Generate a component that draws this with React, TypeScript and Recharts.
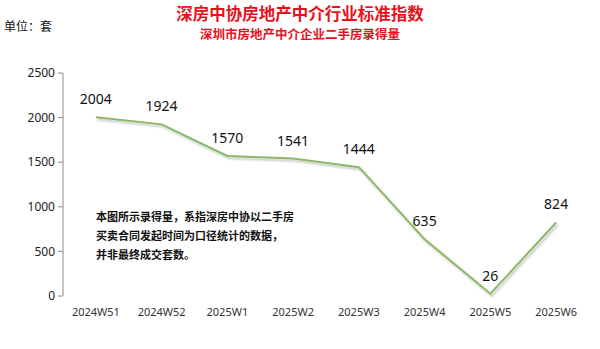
import { LabelList, Line, LineChart, XAxis, YAxis } from 'recharts';

const weeks = ['2024W51', '2024W52', '2025W1', '2025W2', '2025W3', '2025W4', '2025W5', '2025W6'];
const volumes = [2004, 1924, 1570, 1541, 1444, 635, 26, 824];
const yTicks = [0, 500, 1000, 1500, 2000, 2500];
const centerTicks = [0, 1, 2, 3, 4, 5, 6, 7];
const edgeTicks = [-0.5, 0.5, 1.5, 2.5, 3.5, 4.5, 5.5, 6.5, 7.5];

const title = '深房中协房地产中介行业标准指数';
const subtitle = '深圳市房地产中介企业二手房录得量';
const unitLabel = '单位：套';
const noteLines = ['本图所示录得量，系指深房中协以二手房', '买卖合同发起时间为口径统计的数据，', '并非最终成交套数。'];

const data = weeks.map((week, i) => ({ i, week, value: volumes[i] }));

const cjk = '"Noto Sans CJK SC", "Noto Sans", sans-serif';
const axisColor = '#8c8c8c';

export default function App() {
  return (
    <div style={{ position: 'absolute', left: 0, top: 0, width: 600, height: 349, background: '#fff', fontFamily: cjk }}>
      <div style={{ position: 'absolute', top: 4, left: 0, width: 600, textAlign: 'center', color: '#e8101a', fontWeight: 700, fontSize: 16.5, lineHeight: '18px' }}>
        {title}
      </div>
      <div style={{ position: 'absolute', top: 27, left: 0, width: 600, textAlign: 'center', color: '#e8101a', fontWeight: 700, fontSize: 12.5, lineHeight: '14px' }}>
        {subtitle}
      </div>
      <div style={{ position: 'absolute', top: 18, left: 4, color: '#111', fontSize: 12, lineHeight: '16px' }}>{unitLabel}</div>
      <div style={{ position: 'absolute', top: 207, left: 96, color: '#111', fontSize: 11, fontWeight: 700, lineHeight: '19px' }}>
        {noteLines.map((line) => (
          <div key={line}>{line}</div>
        ))}
      </div>
      <LineChart width={600} height={349} data={data} margin={{ top: 73, right: 11, left: 0, bottom: 23 }}>
        <defs>
          <filter id="lineShadow" x="-10%" y="-10%" width="120%" height="130%">
            <feDropShadow dx="1.5" dy="2" stdDeviation="1.2" floodColor="#000" floodOpacity="0.25" />
          </filter>
        </defs>
        <XAxis
          xAxisId="edges"
          type="number"
          dataKey="i"
          domain={[-0.5, 7.5]}
          ticks={edgeTicks}
          height={0}
          tickFormatter={() => ''}
          stroke={axisColor}
          tickSize={5}
          allowDataOverflow
        />
        <XAxis
          xAxisId="labels"
          type="number"
          dataKey="i"
          domain={[-0.5, 7.5]}
          ticks={centerTicks}
          height={30}
          axisLine={false}
          tickLine={false}
          tickFormatter={(v: number) => weeks[v] ?? ''}
          tick={{ fill: '#333', fontSize: 11, fontFamily: '"Noto Sans", sans-serif' }}
          tickMargin={6}
        />
        <YAxis
          domain={[0, 2500]}
          ticks={yTicks}
          width={63}
          stroke={axisColor}
          tickSize={5}
          tick={{ fill: '#222', fontSize: 12, fontFamily: '"Noto Sans", sans-serif' }}
          tickMargin={3}
        />
        <Line
          xAxisId="edges"
          type="linear"
          dataKey="value"
          stroke="#8cb866"
          strokeWidth={2}
          dot={false}
          activeDot={false}
          filter="url(#lineShadow)"
          isAnimationActive={false}
        >
          <LabelList dataKey="value" position="top" offset={13} fill="#111" fontSize={14} fontFamily='"Noto Sans", sans-serif' />
        </Line>
      </LineChart>
    </div>
  );
}
